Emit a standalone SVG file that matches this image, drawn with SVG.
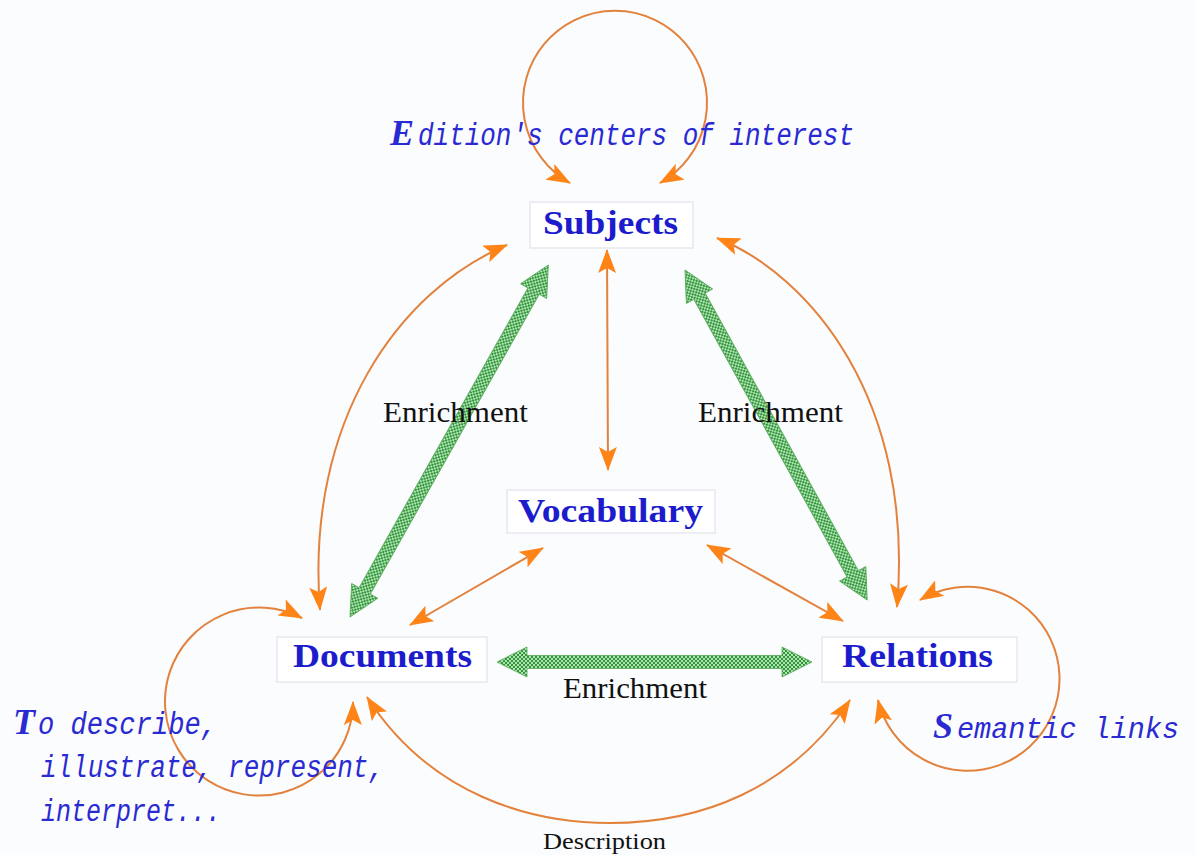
<svg xmlns="http://www.w3.org/2000/svg" width="1196" height="855" viewBox="0 0 1196 855">
<style>
.node rect{fill:#ffffff;stroke:#e6e8ee;stroke-width:1.5}
.node text{font-family:"Liberation Serif",serif;font-weight:bold;font-size:33px;fill:#1c1ccc}
.lbl{font-family:"Liberation Mono",monospace;font-style:italic;font-size:31px;fill:#2a2ad2}
.cap{font-family:"Liberation Serif",serif;font-style:italic;font-weight:bold;font-size:36px;fill:#2a2ad2}
.blk{font-family:"Liberation Serif",serif;font-size:29px;fill:#111}
.orange{fill:none;stroke:#e2823c;stroke-width:2}
.green{fill:url(#hatch);stroke:#55a855;stroke-width:0.8}
</style>
<defs>
<pattern id="hatch" width="4" height="4" patternUnits="userSpaceOnUse">
<rect width="4" height="4" fill="#aee4ae"/>
<rect width="2" height="2" fill="#349440"/>
<rect x="2" y="2" width="2" height="2" fill="#349440"/>
</pattern>
<marker id="ah" markerUnits="userSpaceOnUse" viewBox="0 0 24 18" refX="23" refY="9" markerWidth="24" markerHeight="18" orient="auto-start-reverse">
<path d="M0,0 L24,9 L0,18 L5,9 z" fill="#ff8418"/>
</marker>
</defs>
<rect width="1196" height="855" fill="#fbfcfe"/>

<g id="connectors">
<path class="orange" d="M 570 183 A 92 92 0 1 1 660 183" marker-start="url(#ah)" marker-end="url(#ah)"/>
<path class="orange" d="M 507 245 C 400 290, 305 420, 320 610" marker-start="url(#ah)" marker-end="url(#ah)"/>
<path class="orange" d="M 717 238 C 810 275, 915 400, 897 607" marker-start="url(#ah)" marker-end="url(#ah)"/>
<path class="orange" d="M 607 250 L 608 470" marker-start="url(#ah)" marker-end="url(#ah)"/>
<path class="orange" d="M 543 548 L 410 625" marker-start="url(#ah)" marker-end="url(#ah)"/>
<path class="orange" d="M 707 545 L 843 621" marker-start="url(#ah)" marker-end="url(#ah)"/>
<path class="orange" d="M 367 697 C 430 795, 530 823, 610 823 C 700 823, 790 790, 850 700" marker-start="url(#ah)" marker-end="url(#ah)"/>
<path class="orange" d="M 302 618 A 94 94 0 1 0 353 702" marker-start="url(#ah)" marker-end="url(#ah)"/>
<path class="orange" d="M 920 600 A 92 92 0 1 1 878 700" marker-start="url(#ah)" marker-end="url(#ah)"/>

<polygon class="green" transform="translate(350 617) rotate(-60.6)" points="0,0 30,-15 30,-6.5 374,-6.5 374,-15 404,0 374,15 374,6.5 30,6.5 30,15"/>
<polygon class="green" transform="translate(685 270) rotate(61.1)" points="0,0 30,-15 30,-6.5 347,-6.5 347,-15 377,0 347,15 347,6.5 30,6.5 30,15"/>
<polygon class="green" transform="translate(497 662)" points="0,0 30,-15 30,-6.5 285,-6.5 285,-15 315,0 285,15 285,6.5 30,6.5 30,15"/>

<text class="blk" x="383" y="422" textLength="145" lengthAdjust="spacingAndGlyphs">Enrichment</text>
<text class="blk" x="698" y="422" textLength="145" lengthAdjust="spacingAndGlyphs">Enrichment</text>
<text class="blk" x="563" y="698" textLength="144" lengthAdjust="spacingAndGlyphs">Enrichment</text>
<text class="blk" x="543" y="849" style="font-size:24px" textLength="123" lengthAdjust="spacingAndGlyphs">Description</text>
</g>

<g id="subjects" class="node">
<rect x="530" y="202" width="163" height="46"/>
<text x="543" y="234" textLength="135" lengthAdjust="spacingAndGlyphs">Subjects</text>
</g>
<g id="vocabulary" class="node">
<rect x="507" y="490" width="208" height="43"/>
<text x="518" y="522" textLength="185" lengthAdjust="spacingAndGlyphs">Vocabulary</text>
</g>
<g id="documents" class="node">
<rect x="277" y="637" width="210" height="45"/>
<text x="293" y="667" textLength="179" lengthAdjust="spacingAndGlyphs">Documents</text>
</g>
<g id="relations" class="node">
<rect x="822" y="637" width="195" height="45"/>
<text x="842" y="667" textLength="151" lengthAdjust="spacingAndGlyphs">Relations</text>
</g>

<g id="annotations">
<text class="cap" x="390" y="145">E</text>
<text class="lbl" x="418" y="145" textLength="436" lengthAdjust="spacingAndGlyphs">dition's centers of interest</text>
<text class="cap" x="13" y="734">T</text>
<text class="lbl" x="38" y="734" textLength="179" lengthAdjust="spacingAndGlyphs">o describe,</text>
<text class="lbl" x="41" y="777" textLength="343" lengthAdjust="spacingAndGlyphs">illustrate, represent,</text>
<text class="lbl" x="41" y="821" textLength="180" lengthAdjust="spacingAndGlyphs">interpret...</text>
<text class="cap" x="933" y="738">S</text>
<text class="lbl" x="957" y="738" style="font-size:29px" textLength="222" lengthAdjust="spacingAndGlyphs">emantic links</text>
</g>
</svg>
